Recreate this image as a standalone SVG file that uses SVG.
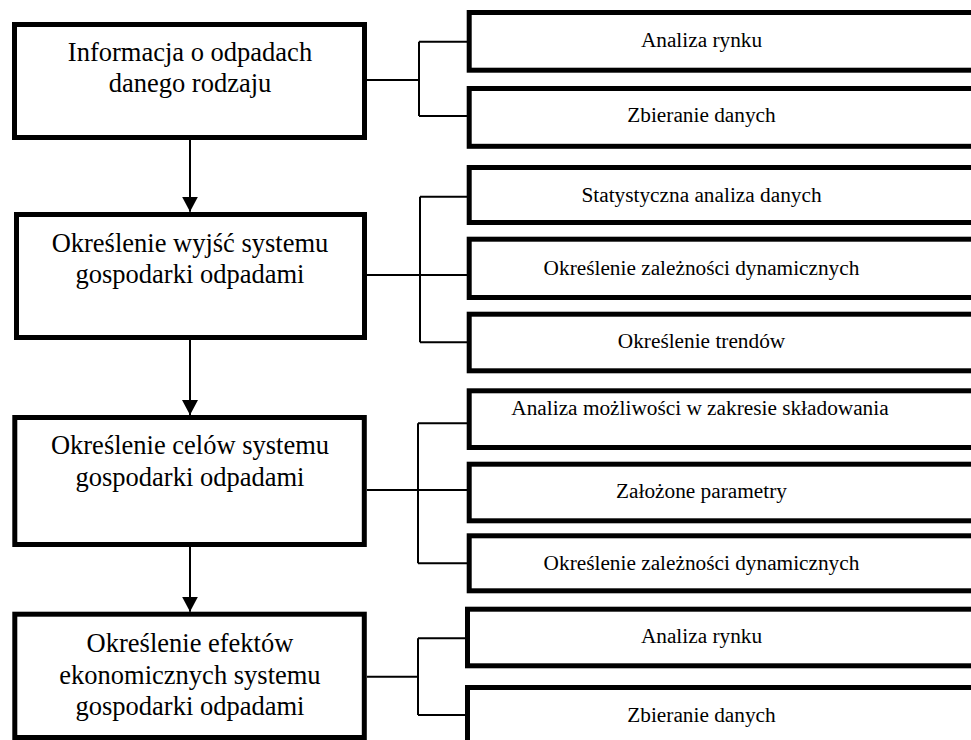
<svg xmlns="http://www.w3.org/2000/svg" width="971" height="740" viewBox="0 0 971 740">
<style>
.box{fill:#fff;stroke:#000;stroke-width:5}
.main{font-family:"Liberation Serif","Times New Roman",serif;font-size:26.5px;text-anchor:middle;fill:#000}
.sub{font-family:"Liberation Serif","Times New Roman",serif;font-size:21.3px;text-anchor:middle;fill:#000}
.ln{fill:none;stroke:#000;stroke-width:2}
</style>
<defs>
<marker id="ah" viewBox="0 0 15 16" refX="15" refY="8" markerWidth="15" markerHeight="16" markerUnits="userSpaceOnUse" orient="auto">
<path d="M0,0 L15,8 L0,16 z" fill="#000"/>
</marker>
</defs>
<rect width="971" height="740" fill="#fff"/>
<g id="connectors">
<path class="ln" d="M190,140 V211.7" marker-end="url(#ah)"/>
<path class="ln" d="M190,340 V415" marker-end="url(#ah)"/>
<path class="ln" d="M190,547 V611.7" marker-end="url(#ah)"/>
<path class="ln" d="M367,80 H419 M419,41.7 V116 M419,41.7 H469 M419,116 H469"/>
<path class="ln" d="M367,275 H420 M420,196.7 V342.3 M420,196.7 H469 M420,275 H469 M420,342.3 H469"/>
<path class="ln" d="M367,490 H418 M418,423.3 V563.3 M418,423.3 H469 M418,490 H469 M418,563.3 H469"/>
<path class="ln" d="M367,676.7 H418 M418,638.3 V715 M418,638.3 H469 M418,715 H469"/>
</g>
<g id="n1"><rect class="box" x="14.5" y="24.5" width="350" height="113"/>
<text class="main" x="190" y="60.7">Informacja o odpadach</text><text class="main" x="190" y="91.7">danego rodzaju</text></g>
<g id="n2"><rect class="box" x="16.5" y="214.5" width="348" height="123"/>
<text class="main" x="190" y="251.7">Określenie wyjść systemu</text><text class="main" x="190" y="283">gospodarki odpadami</text></g>
<g id="n3"><rect class="box" x="14.8" y="417.5" width="349.5" height="127"/>
<text class="main" x="190" y="454">Określenie celów systemu</text><text class="main" x="190" y="486">gospodarki odpadami</text></g>
<g id="n4"><rect class="box" x="14.8" y="614.2" width="349.5" height="123.3"/>
<text class="main" x="190" y="651.5">Określenie efektów</text><text class="main" x="190" y="684">ekonomicznych systemu</text><text class="main" x="190" y="715">gospodarki odpadami</text></g>
<g id="a1"><rect class="box" x="469.2" y="12.5" width="530" height="57.7"/><text class="sub" x="701.5" y="46.7">Analiza rynku</text></g>
<g id="a2"><rect class="box" x="469.2" y="88.5" width="530" height="57.8"/><text class="sub" x="701.5" y="121.7">Zbieranie danych</text></g>
<g id="b1"><rect class="box" x="469.2" y="167.5" width="530" height="55"/><text class="sub" x="701.5" y="201.7">Statystyczna analiza danych</text></g>
<g id="b2"><rect class="box" x="469.2" y="239.2" width="530" height="58.3"/><text class="sub" x="701.5" y="275">Określenie zależności dynamicznych</text></g>
<g id="b3"><rect class="box" x="469.2" y="314.2" width="530" height="56.6"/><text class="sub" x="701.5" y="348.3">Określenie trendów</text></g>
<g id="c1"><rect class="box" x="469.2" y="390.8" width="530" height="56.7"/><text class="sub" x="700" y="415">Analiza możliwości w zakresie składowania</text></g>
<g id="c2"><rect class="box" x="469.2" y="464.2" width="530" height="56.6"/><text class="sub" x="701.5" y="498.3">Założone parametry</text></g>
<g id="c3"><rect class="box" x="469.2" y="535.8" width="530" height="55"/><text class="sub" x="701.5" y="570">Określenie zależności dynamicznych</text></g>
<g id="d1"><rect class="box" x="467.5" y="609.2" width="530" height="56.6"/><text class="sub" x="701.5" y="642.7">Analiza rynku</text></g>
<g id="d2"><rect class="box" x="467.5" y="687.5" width="530" height="70"/><text class="sub" x="701.5" y="721.7">Zbieranie danych</text></g>
</svg>
